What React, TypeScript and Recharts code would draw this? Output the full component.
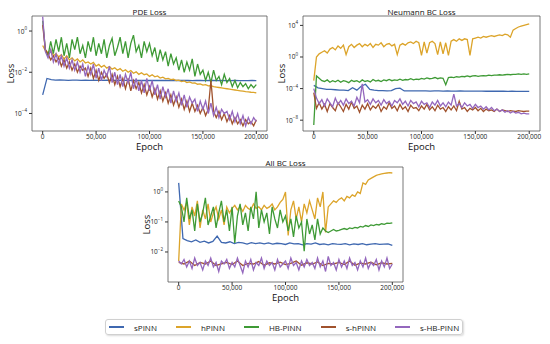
import { LineChart, Line, XAxis, YAxis, ReferenceArea } from 'recharts'

// all loss values are stored as log10(loss), sampled evenly over 0..200,000 epochs
const SERIES_NAMES = ['sPINN', 'hPINN', 'HB-PINN', 's-hPINN', 's-HB-PINN']
const SERIES_COLORS = ['#3f68b0', '#dca42a', '#3e9a35', '#a0522d', '#9467bd']
const X_TICKS = [0, 50000, 100000, 150000, 200000]
const MAX_EPOCH = 200000

// PDE Loss
const PDE_SPINN = [
  -3.1, -2.3, -2.36, -2.38, -2.37, -2.38, -2.39, -2.38, -2.38, -2.39, -2.38, -2.39, -2.38, -2.39, -2.39, -2.38, -2.39,
  -2.4, -2.39, -2.39, -2.39, -2.4, -2.39, -2.4, -2.39, -2.4, -2.4, -2.39, -2.4, -2.4, -2.4, -2.4, -2.39, -2.4, -2.4,
  -2.41, -2.4, -2.4, -2.41, -2.4, -2.4, -2.41, -2.4, -2.41, -2.41, -2.4, -2.41, -2.41, -2.41, -2.4, -2.41,
]
const PDE_HPINN = [
  -0.7, -0.95, -1.05, -0.9, -1.2, -1.1, -1.25, -1.15, -1.35, -1.2, -1.4, -1.3, -1.45, -1.35, -1.5, -1.4, -1.55, -1.5,
  -1.6, -1.52, -1.7, -1.62, -1.75, -1.66, -1.8, -1.72, -1.85, -1.78, -1.9, -1.82, -1.95, -1.88, -2.0, -1.92, -2.05,
  -1.98, -2.1, -2.02, -2.12, -2.08, -2.2, -2.12, -2.22, -2.18, -2.28, -2.24, -2.32, -2.3, -2.36, -2.34, -2.4, -2.38,
  -2.45, -2.42, -2.5, -2.47, -2.53, -2.52, -2.58, -2.56, -2.62, -2.6, -2.66, -2.65, -2.7, -2.72, -2.74, -2.76, -2.78,
  -2.8, -2.82, -2.84, -2.86, -2.88, -2.9, -2.92, -2.94, -2.95, -2.97, -2.98, -3.0,
]
const PDE_HBPINN = [
  0.5, -0.9, -1.2, -0.5, -1.1, -0.4, -1.0, -0.3, -1.2, -0.6, -1.3, -0.4, -0.9, -0.3, -1.1, -0.7, -1.3, -0.5, -1.0,
  -0.3, -1.2, -0.6, -1.1, -0.4, -1.3, -0.7, -0.35, -1.2, -0.8, -0.3, -1.1, -0.5, -1.3, -0.6, -0.2, -1.0, -0.7, -1.3,
  -0.5, -1.0, -0.6, -1.2, -0.8, -1.5, -0.9, -1.4, -1.0, -1.7, -1.1, -1.6, -1.3, -1.9, -1.4, -2.0, -1.5, -1.9, -1.35,
  -2.2, -1.6, -2.1, -1.9, -2.4, -2.0, -2.5, -1.9, -2.4, -2.2, -2.6, -2.1, -2.5, -2.3, -2.7, -2.4, -2.75, -2.5, -2.7,
  -2.55, -2.8, -2.6, -2.75, -2.6,
]
const PDE_SHPINN = [
  0.3, -0.9, -1.1, -1.4, -1.2, -1.5, -1.3, -1.7, -1.4, -1.8, -1.5, -1.9, -1.6, -2.0, -1.7, -1.9, -1.8, -2.2, -1.8,
  -2.3, -1.9, -2.4, -2.0, -2.3, -2.1, -2.5, -2.1, -2.6, -2.2, -2.7, -2.3, -2.8, -2.3, -2.9, -2.4, -2.8, -2.5, -3.0,
  -2.6, -3.1, -2.7, -3.2, -2.8, -3.3, -2.9, -3.4, -3.0, -3.5, -3.1, -3.6, -3.2, -3.7, -3.3, -3.8, -3.4, -3.9, -3.5,
  -3.9, -3.6, -4.0, -3.7, -4.1, -3.8, -2.4, -3.9, -4.2, -3.9, -4.3, -4.0, -4.4, -4.1, -4.5, -4.2, -4.5, -4.3, -4.6,
  -4.3, -4.5, -4.4, -4.6, -4.3,
]
const PDE_SHBPINN = [
  0.7, -1.0, -1.3, -0.9, -1.5, -1.1, -1.6, -1.2, -1.7, -1.3, -1.8, -1.4, -1.9, -1.5, -2.0, -1.6, -2.2, -1.7, -2.1,
  -1.6, -2.3, -1.8, -2.4, -1.9, -2.2, -1.7, -2.5, -2.0, -2.6, -2.1, -2.7, -2.1, -2.5, -2.0, -2.8, -2.3, -2.9, -2.4,
  -3.0, -2.3, -2.9, -2.4, -3.1, -2.6, -3.3, -2.7, -3.2, -2.8, -3.5, -2.9, -3.4, -3.0, -3.6, -3.1, -3.7, -3.2, -3.5,
  -3.3, -3.9, -3.4, -3.8, -3.4, -4.0, -3.5, -4.1, -3.7, -4.2, -3.8, -4.0, -3.9, -4.3, -3.9, -4.4, -4.0, -4.5, -4.1,
  -4.6, -4.2, -4.5, -4.2, -4.4,
]

// Neumann BC Loss
const NEU_SPINN = [
  -3.6, -3.9, -4.0, -4.1, -4.1, -4.15, -4.2, -4.2, -4.25, -3.9, -4.2, -3.7, -3.45, -4.1, -4.2, -4.25, -4.25, -4.3,
  -4.25, -4.0, -3.95, -4.3, -4.3, -4.3, -4.28, -4.3, -4.3, -4.32, -4.3, -4.3, -4.32, -4.3, -4.32, -4.32, -4.3, -4.33,
  -4.32, -4.33, -4.33, -4.32, -4.34, -4.33, -4.34, -4.34, -4.33, -4.35, -4.34, -4.35, -4.35, -4.35, -4.36,
]
const NEU_HPINN = [
  -3.0, 0.0, 0.4, 0.6, 0.8, 0.5, 1.0, 1.2, 0.9, 1.4, 1.1, 1.5, 0.3, 1.3, 1.6, 1.2, 1.5, 1.7, 1.3, 1.6, 1.4, 1.7, 1.2,
  1.6, 1.5, 1.8, 1.3, 1.6, 1.7, 1.4, 1.6, 0.3, 1.5, 1.7, 1.5, 1.8, 1.9, 1.7, 2.0, 1.8, 0.2, 1.9, 0.5, 1.8, 2.0, 1.7,
  0.3, 1.9, 0.4, 1.8, 0.2, 2.0, 2.2, 2.0, 2.3, 2.1, 2.3, 2.2, 0.2, 2.3, 2.4, 2.5, 2.4, 2.6, 2.5, 2.6, 2.7, 2.6, 2.7,
  2.8, 2.7, 2.9, 2.8, 2.5, 3.4, 3.6, 3.8, 3.9, 4.0, 4.1, 4.2,
]
const NEU_HBPINN = [
  -8.6, -2.4, -2.7, -3.0, -3.1, -2.9, -3.2, -3.0, -3.15, -2.95, -3.2, -3.0, -3.1, -3.25, -2.95, -3.1, -3.0, -3.2, -2.9,
  -3.1, -3.0, -3.15, -2.85, -3.05, -2.95, -3.1, -2.9, -3.0, -2.85, -3.0, -2.9, -2.95, -2.8, -2.95, -2.85, -2.9, -2.75,
  -2.9, -2.8, -2.85, -2.7, -2.8, -2.65, -2.75, -2.7, -2.6, -2.75, -2.65, -2.7, -3.5, -2.6, -2.55, -2.6, -2.5, -2.55,
  -2.45, -2.5, -2.4, -2.5, -2.4, -2.35, -2.45, -2.4, -2.35, -2.4, -2.3, -2.35, -2.3, -2.3, -2.25, -2.3, -2.25, -2.2,
  -2.25, -2.2, -2.2, -2.15, -2.2, -2.15, -2.2, -2.15,
]
const NEU_SHPINN = [
  -4.5, -6.5, -5.8, -6.6, -6.0, -6.9, -5.9, -6.4, -6.8, -5.8, -6.3, -6.9, -6.0, -6.6, -5.7, -6.5, -6.2, -7.0, -6.1,
  -6.6, -5.9, -6.7, -6.2, -6.5, -6.0, -6.9, -6.3, -6.6, -5.8, -6.5, -6.2, -6.8, -6.0, -6.6, -6.3, -6.9, -6.1, -6.5,
  -6.4, -6.8, -6.2, -6.6, -6.0, -6.7, -6.3, -6.8, -6.1, -6.6, -6.4, -6.9, -6.3, -6.7, -6.2, -6.8, -5.6, -6.6, -6.4,
  -6.9, -6.5, -6.7, -6.4, -6.8, -6.5, -6.9, -6.6, -6.8, -6.7, -6.9, -6.6, -6.9, -6.7, -6.8, -6.9, -6.8, -6.85, -6.9,
  -6.8, -6.85, -6.9, -6.85, -6.85,
]
const NEU_SHBPINN = [
  -4.0, -5.2, -5.9, -5.4, -6.2, -5.3, -5.8, -6.3, -5.2, -6.0, -5.5, -6.1, -5.3, -5.9, -5.6, -6.2, -5.1, -5.8, -3.4,
  -5.7, -5.4, -6.0, -5.3, -5.8, -5.5, -6.1, -5.4, -5.9, -5.6, -6.2, -5.5, -5.8, -5.3, -6.0, -5.6, -6.2, -5.5, -5.9,
  -5.7, -6.3, -5.6, -6.0, -5.8, -6.4, -5.7, -6.1, -5.5, -6.2, -5.8, -6.3, -5.7, -6.1, -4.7, -6.2, -5.9, -6.4, -5.8,
  -6.2, -6.0, -6.5, -6.0, -6.4, -6.2, -6.6, -6.3, -6.7, -6.4, -6.8, -6.6, -6.9, -6.7, -7.0, -6.8, -7.1, -6.9, -7.1,
  -7.0, -7.2, -7.1, -7.2, -7.2,
]

// All BC Loss
const BC_SPINN = [
  0.3, -1.55, -1.62, -1.66, -1.6, -1.68, -1.64, -1.7, -1.65, -1.47, -1.68, -1.7, -1.66, -1.72, -1.68, -1.7, -1.74,
  -1.69, -1.72, -1.7, -1.73, -1.7, -1.74, -1.71, -1.72, -1.75, -1.7, -1.73, -1.72, -1.76, -1.72, -1.74, -1.7, -1.75,
  -1.73, -1.76, -1.72, -1.74, -1.75, -1.72, -1.76, -1.73, -1.75, -1.72, -1.76, -1.74, -1.72, -1.75, -1.74, -1.73, -1.78,
]
const BC_HPINN = [
  -2.3, -0.4, -0.6, -0.35, -1.1, -0.5, -0.8, -0.3, -1.2, -0.6, -0.9, -0.4, -1.0, -0.7, -0.5, -0.9, -0.6, -1.1, -0.5,
  -0.7, -0.55, -0.45, -0.6, -0.5, -0.65, -0.45, -0.55, -0.6, -0.4, -0.55, -0.5, -0.6, -0.45, -0.55, -0.5, -0.4, -0.6,
  -0.5, -0.35, -0.25, 0.0, -1.45, -0.6, -0.3, -0.9, -0.5, -1.0, -0.4, -0.7, -0.3, -0.6, -0.9, -0.2, -0.5, 0.0, -1.35,
  -0.5, -0.4, -0.3, -0.35, -0.25, -0.2, -0.3, -0.15, -0.2, -0.1, -0.15, 0.0, -0.05, 0.3, 0.25, 0.4, 0.45, 0.5, 0.55,
  0.58, 0.6, 0.62, 0.63, 0.64, 0.63,
]
const BC_HBPINN = [
  -0.3, -0.5, -1.0, -0.2, -0.9, -0.6, -1.3, -0.4, -1.0, -0.7, -0.2, -1.1, -0.8, -0.5, -1.2, -0.7, -0.3, -1.0, -0.6,
  -1.3, -0.5, -1.7, -0.8, -0.4, -1.1, -0.7, -1.3, -0.5, -0.9, 0.0, -1.2, -0.6, -1.0, -0.7, -1.4, -0.5, -0.9, -1.2,
  -0.6, -1.0, -0.8, -1.3, -0.9, -1.5, -0.8, -1.2, -1.0, -1.97, -0.9, -1.4, -1.1, -1.6, -0.9, -1.4, -1.2, -1.3, -1.35,
  -1.3, -1.25, -1.3, -1.28, -1.25, -1.22, -1.25, -1.2, -1.22, -1.18, -1.2, -1.15, -1.17, -1.12, -1.15, -1.1, -1.12,
  -1.08, -1.1, -1.06, -1.08, -1.04, -1.05, -1.03,
]
const BC_SHPINN = [
  -2.35, -2.4, -2.3, -2.45, -2.35, -2.4, -2.3, -2.45, -2.4, -2.35, -2.42, -2.3, -2.45, -2.38, -2.4, -2.32, -2.44,
  -2.36, -2.4, -2.34, -2.42, -2.38, -2.3, -2.44, -2.36, -2.4, -2.33, -2.45, -2.38, -2.4, -2.35, -2.42, -2.3, -2.44,
  -2.37, -2.4, -2.34, -2.43, -2.36, -2.4, -2.38,
]
const BC_SHBPINN = [
  -2.3, -2.4, -2.25, -2.5, -2.3, -2.55, -2.2, -2.45, -2.35, -2.6, -2.3, -2.45, -2.2, -2.5, -2.35, -2.65, -2.3, -2.4,
  -2.25, -2.55, -2.35, -2.5, -2.2, -2.45, -2.7, -2.3, -2.5, -2.25, -2.6, -2.35, -2.45, -2.2, -2.55, -2.3, -2.45, -2.35,
  -2.6, -2.25, -2.5, -2.4, -2.3, -2.55, -2.2, -2.45, -2.35, -2.6, -2.3, -2.5, -2.25, -2.45, -2.35, -2.55, -2.2, -2.5,
  -2.3, -2.65, -2.15, -2.45, -2.35, -2.6, -2.25, -2.5, -2.3, -2.55, -2.2, -2.45, -2.35, -2.6, -2.3, -2.5, -2.2, -2.55,
  -2.35, -2.45, -2.25, -2.6, -2.3, -2.5, -2.2, -2.55, -2.4,
]

const FONT = '"Open Sans", "DejaVu Sans", sans-serif'
const CHART_H = 155

const toPoints = (logs: number[]) =>
  logs.map((v, i) => ({ epoch: (i * MAX_EPOCH) / (logs.length - 1), loss: Math.pow(10, v) }))

function LogTick({ x, y, payload }: any) {
  const exp = Math.round(Math.log10(payload.value))
  return (
    <text x={x} y={y} textAnchor="end" dominantBaseline="central" fontSize={6.5} fill="#222" fontFamily={FONT}>
      10
      <tspan dy={-3} fontSize={4.5}>
        {exp < 0 ? '\u2212' + Math.abs(exp) : exp}
      </tspan>
    </text>
  )
}

interface PanelProps {
  left: number
  top: number
  width: number
  plotLeft: number
  plotRight: number
  title: string
  domain: [number, number]
  ticks: number[]
  series: number[][]
}

function LossPanel({ left, top, width, plotLeft, plotRight, title, domain, ticks, series }: PanelProps) {
  const center = (plotLeft + plotRight) / 2
  return (
    <div style={{ position: 'absolute', left, top, width, height: CHART_H, fontFamily: FONT }}>
      <LineChart width={width} height={CHART_H} margin={{ top: 16, right: width - plotRight, bottom: 0, left: 0 }}>
        <XAxis
          dataKey="epoch"
          type="number"
          domain={[-10000, 210000]}
          allowDataOverflow
          ticks={X_TICKS}
          tickFormatter={(v) => v.toLocaleString('en-US')}
          tick={{ fontSize: 6.5, fill: '#222', fontFamily: FONT }}
          height={24}
          tickSize={3}
          tickMargin={0}
          axisLine={false}
          stroke="#333"
        />
        <YAxis
          type="number"
          scale="log"
          domain={domain}
          allowDataOverflow
          ticks={ticks}
          tick={<LogTick />}
          width={plotLeft}
          tickSize={3}
          tickMargin={2}
          axisLine={false}
          stroke="#333"
        />
        {series.map((logs, i) => (
          <Line
            key={SERIES_NAMES[i]}
            data={toPoints(logs)}
            dataKey="loss"
            type="linear"
            stroke={SERIES_COLORS[i]}
            strokeWidth={1.3}
            dot={false}
            isAnimationActive={false}
          />
        ))}
        <ReferenceArea
          x1={-10000}
          x2={210000}
          y1={domain[0]}
          y2={domain[1]}
          fill="none"
          stroke="#555"
          strokeWidth={0.8}
          ifOverflow="visible"
        />
      </LineChart>
      <div
        style={{
          position: 'absolute',
          left: center - 60,
          width: 120,
          top: 7,
          fontSize: 8,
          lineHeight: '10px',
          textAlign: 'center',
          color: '#111',
        }}
      >
        {title}
      </div>
      <div
        style={{
          position: 'absolute',
          left: center - 30,
          width: 60,
          top: 142,
          fontSize: 9.5,
          lineHeight: '10px',
          textAlign: 'center',
          color: '#111',
        }}
      >
        Epoch
      </div>
      <div
        style={{
          position: 'absolute',
          left: plotLeft - 22 - 12,
          top: 68,
          width: 24,
          fontSize: 9.5,
          lineHeight: '11px',
          textAlign: 'center',
          color: '#111',
          transform: 'rotate(-90deg)',
          transformOrigin: '50% 50%',
        }}
      >
        Loss
      </div>
    </div>
  )
}

export default function App() {
  return (
    <div style={{ position: 'absolute', left: 0, top: 0, width: 550, height: 344, background: '#fff', overflow: 'hidden' }}>
      <LossPanel
        left={0}
        top={0}
        width={275}
        plotLeft={32}
        plotRight={267}
        title="PDE Loss"
        domain={[Math.pow(10, -4.85), Math.pow(10, 0.73)]}
        ticks={[1e-4, 1e-3, 1e-2, 1e-1, 1]}
        series={[PDE_SPINN, PDE_HPINN, PDE_HBPINN, PDE_SHPINN, PDE_SHBPINN]}
      />
      <LossPanel
        left={270}
        top={0}
        width={275}
        plotLeft={33}
        plotRight={270}
        title="Neumann BC Loss"
        domain={[Math.pow(10, -9.37), Math.pow(10, 5.19)]}
        ticks={[1e-8, 1e-6, 1e-4, 1e-2, 1, 1e2, 1e4]}
        series={[NEU_SPINN, NEU_HPINN, NEU_HBPINN, NEU_SHPINN, NEU_SHBPINN]}
      />
      <LossPanel
        left={130}
        top={151}
        width={280}
        plotLeft={38}
        plotRight={273}
        title="All BC Loss"
        domain={[Math.pow(10, -3), Math.pow(10, 0.83)]}
        ticks={[1e-2, 1e-1, 1]}
        series={[BC_SPINN, BC_HPINN, BC_HBPINN, BC_SHPINN, BC_SHBPINN]}
      />
      <div
        style={{
          position: 'absolute',
          left: 105,
          top: 319,
          width: 358,
          height: 16,
          border: '1px solid #d0d0d0',
          borderRadius: 3,
          boxShadow: '1px 1px 2px rgba(0,0,0,0.15)',
          display: 'flex',
          alignItems: 'center',
          gap: 19,
          paddingLeft: 3,
          boxSizing: 'border-box',
          fontFamily: FONT,
          fontSize: 8,
          color: '#222',
        }}
      >
        {SERIES_NAMES.map((name, i) => (
          <div key={name} style={{ display: 'flex', alignItems: 'center', gap: 10 }}>
            <div style={{ width: 15, height: 1.3, background: SERIES_COLORS[i] }} />
            <span>{name}</span>
          </div>
        ))}
      </div>
    </div>
  )
}
